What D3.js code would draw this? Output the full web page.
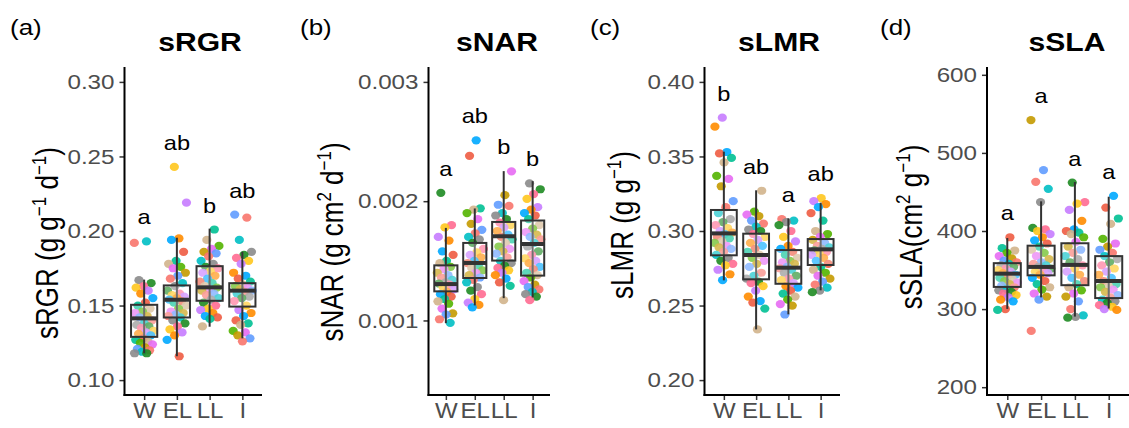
<!DOCTYPE html>
<html lang="en">
<head>
<meta charset="utf-8">
<style>
    body { margin: 0; background: #fff; }
    svg { display: block; font-family: "Liberation Sans", Arial, sans-serif; }
</style>
</head>
<body>
<svg width="1129" height="428"></svg>
<script src="https://cdn.jsdelivr.net/npm/d3@7"></script>
<script>
    const groups = ["W", "EL", "LL", "I"];

    /************************************************************************************
    * Data
    ************************************************************************************/
    // sRGR points per group
    const rgrW  = [0.192, 0.193, 0.167, 0.165, 0.163, 0.162, 0.160, 0.158, 0.155, 0.152, 0.150, 0.148, 0.146, 0.145, 0.143, 0.142, 0.140, 0.138, 0.137, 0.136, 0.135, 0.133, 0.132, 0.131, 0.130, 0.128, 0.127, 0.126, 0.125, 0.124, 0.122, 0.121, 0.120, 0.119, 0.118, 0.118];
    const rgrEL = [0.243, 0.219, 0.195, 0.194, 0.186, 0.180, 0.178, 0.176, 0.175, 0.172, 0.170, 0.168, 0.165, 0.163, 0.160, 0.158, 0.157, 0.156, 0.155, 0.154, 0.153, 0.152, 0.150, 0.148, 0.146, 0.145, 0.144, 0.143, 0.142, 0.140, 0.138, 0.136, 0.134, 0.132, 0.130, 0.127, 0.116];
    const rgrLL = [0.201, 0.194, 0.190, 0.188, 0.186, 0.185, 0.183, 0.180, 0.178, 0.176, 0.175, 0.173, 0.172, 0.170, 0.168, 0.166, 0.165, 0.163, 0.162, 0.161, 0.160, 0.158, 0.157, 0.155, 0.154, 0.152, 0.150, 0.148, 0.147, 0.145, 0.143, 0.142, 0.141, 0.136];
    const rgrI  = [0.211, 0.209, 0.194, 0.186, 0.184, 0.182, 0.180, 0.178, 0.172, 0.170, 0.168, 0.166, 0.164, 0.163, 0.162, 0.161, 0.160, 0.159, 0.158, 0.156, 0.155, 0.153, 0.150, 0.147, 0.145, 0.143, 0.140, 0.138, 0.137, 0.133, 0.132, 0.130, 0.128, 0.126];
    // box stats: [lower whisker, q1, median, q3, upper whisker]
    const rgrBox = [[0.118, 0.129, 0.1414, 0.1505, 0.1674], [0.116, 0.142, 0.1539, 0.1635, 0.1955], [0.1358, 0.1532, 0.1622, 0.1764, 0.2016], [0.128, 0.1493, 0.160, 0.165, 0.186]];
    const rgrLetters = ["a", "ab", "b", "ab"];
    const rgrTicks = [0.10, 0.15, 0.20, 0.25, 0.30];

    // sNAR
    const narW  = [0.00207, 0.00180, 0.00178, 0.00170, 0.00167, 0.00158, 0.00155, 0.00150, 0.00148, 0.00145, 0.00143, 0.00140, 0.00138, 0.00136, 0.00134, 0.00132, 0.00131, 0.00130, 0.00128, 0.00126, 0.00124, 0.00122, 0.00120, 0.00118, 0.00116, 0.00114, 0.00110, 0.00106, 0.00105, 0.00101, 0.00098];
    const narEL = [0.00251, 0.00238, 0.00194, 0.00193, 0.00190, 0.00185, 0.00181, 0.00176, 0.00173, 0.00170, 0.00168, 0.00165, 0.00160, 0.00157, 0.00155, 0.00153, 0.00150, 0.00148, 0.00146, 0.00144, 0.00142, 0.00140, 0.00138, 0.00136, 0.00134, 0.00132, 0.00128, 0.00125, 0.00122, 0.00118, 0.00115, 0.00113, 0.00111];
    const narLL = [0.00225, 0.00205, 0.00197, 0.00196, 0.00190, 0.00188, 0.00185, 0.00182, 0.00180, 0.00178, 0.00175, 0.00172, 0.00170, 0.00168, 0.00165, 0.00162, 0.00160, 0.00158, 0.00156, 0.00153, 0.00150, 0.00148, 0.00146, 0.00144, 0.00142, 0.00140, 0.00138, 0.00135, 0.00132, 0.00129, 0.00117];
    const narI  = [0.00215, 0.00210, 0.00206, 0.00202, 0.00195, 0.00193, 0.00190, 0.00188, 0.00185, 0.00180, 0.00177, 0.00174, 0.00172, 0.00170, 0.00168, 0.00165, 0.00162, 0.00158, 0.00155, 0.00152, 0.00150, 0.00148, 0.00145, 0.00143, 0.00140, 0.00138, 0.00136, 0.00133, 0.00130, 0.00128, 0.00126, 0.00124, 0.00122, 0.00120, 0.00117];
    const narBox = [[0.000977, 0.001244, 0.001305, 0.001462, 0.001776], [0.001126, 0.001356, 0.001482, 0.00165, 0.001939], [0.001187, 0.001502, 0.001706, 0.001826, 0.002252], [0.001193, 0.001376, 0.001641, 0.001838, 0.002168]];
    const narLetters = ["a", "ab", "b", "b"];
    const narTicks = [0.001, 0.002, 0.003];

    // sLMR
    const lmrW  = [0.376, 0.370, 0.353, 0.352, 0.349, 0.346, 0.337, 0.335, 0.330, 0.320, 0.316, 0.312, 0.308, 0.306, 0.304, 0.302, 0.300, 0.299, 0.298, 0.296, 0.295, 0.293, 0.292, 0.290, 0.289, 0.288, 0.286, 0.284, 0.282, 0.280, 0.278, 0.277, 0.274, 0.271, 0.267];
    const lmrEL = [0.327, 0.313, 0.311, 0.310, 0.307, 0.305, 0.303, 0.301, 0.300, 0.298, 0.296, 0.294, 0.292, 0.290, 0.288, 0.286, 0.284, 0.282, 0.280, 0.278, 0.276, 0.272, 0.270, 0.268, 0.266, 0.265, 0.263, 0.260, 0.256, 0.253, 0.252, 0.248, 0.234];
    const lmrLL = [0.308, 0.307, 0.306, 0.304, 0.300, 0.296, 0.293, 0.290, 0.288, 0.286, 0.284, 0.282, 0.280, 0.279, 0.278, 0.276, 0.275, 0.274, 0.272, 0.270, 0.268, 0.267, 0.265, 0.263, 0.262, 0.260, 0.258, 0.256, 0.254, 0.251, 0.250, 0.244];
    const lmrI  = [0.322, 0.320, 0.318, 0.316, 0.312, 0.307, 0.300, 0.298, 0.296, 0.294, 0.292, 0.290, 0.289, 0.288, 0.287, 0.286, 0.285, 0.284, 0.282, 0.280, 0.278, 0.276, 0.274, 0.272, 0.270, 0.268, 0.266, 0.264, 0.262, 0.260, 0.259];
    const lmrBox = [[0.2669, 0.2837, 0.2984, 0.3141, 0.3532], [0.234, 0.2676, 0.2839, 0.2982, 0.3273], [0.2441, 0.2646, 0.2754, 0.2872, 0.3085], [0.2602, 0.2772, 0.2877, 0.2946, 0.319]];
    const lmrLetters = ["b", "ab", "a", "ab"];
    const lmrTicks = [0.20, 0.25, 0.30, 0.35, 0.40];

    // sSLA
    const slaW  = [392, 378, 375, 372, 368, 365, 362, 360, 358, 356, 354, 352, 350, 348, 346, 344, 342, 340, 338, 336, 334, 332, 330, 328, 326, 324, 322, 320, 318, 315, 312, 310, 300, 299];
    const slaEL = [542, 478, 463, 454, 437, 404, 402, 400, 396, 392, 388, 384, 380, 376, 372, 368, 364, 360, 358, 356, 354, 352, 350, 348, 346, 344, 340, 336, 332, 328, 325, 320, 316, 312, 272];
    const slaLL = [462, 437, 435, 427, 413, 402, 400, 398, 396, 392, 386, 380, 376, 372, 368, 364, 360, 356, 352, 348, 344, 340, 336, 332, 328, 324, 320, 316, 310, 300, 292, 290, 289];
    const slaI  = [445, 430, 416, 409, 390, 384, 380, 376, 372, 368, 364, 360, 356, 352, 348, 344, 340, 336, 332, 330, 328, 325, 322, 318, 315, 312, 310, 308, 305, 303, 300, 299];
    const slaBox = [[300.2, 328.4, 345.4, 358.8, 391], [315, 343.2, 354, 381.2, 438], [290.4, 330.6, 356.6, 384.3, 462.7], [300.7, 314.1, 336, 367.8, 443.9]];
    const slaLetters = ["a", "a", "a", "a"];
    const slaTicks = [200, 300, 400, 500, 600];

    const palette = ["#F8766D", "#FF8C00", "#C49A00", "#FFC61E", "#53B400", "#1E8B22", "#00C094", "#00BFC4",
                     "#00A9FF", "#619CFF", "#C77CFF", "#E76BF3", "#FF6C91", "#D2B48C", "#8B8B8B", "#EE5C42"];

    /************************************************************************************
    * Panels
    ************************************************************************************/
    const panels = [
        { tag: "(a)", tagX: 10, title: "sRGR", titleX: 200, left: 124.5, right: 262,
          points: [rgrW, rgrEL, rgrLL, rgrI], box: rgrBox, letters: rgrLetters,
          domain: [0.09, 0.31], ticks: rgrTicks, fmt: ".2f",
          label: ["sRGR (g g", "-1", " d", "-1", ")"], labelX: 58, labelY: 243 },
        { tag: "(b)", tagX: 300, title: "sNAR", titleX: 497, left: 428.5, right: 550,
          points: [narW, narEL, narLL, narI], box: narBox, letters: narLetters,
          domain: [0.000375, 0.003125], ticks: narTicks, fmt: ".3f",
          label: ["sNAR (g cm", "2", " d", "-1", ")"], labelX: 343, labelY: 242 },
        { tag: "(c)", tagX: 590, title: "sLMR", titleX: 779, left: 704.5, right: 840,
          points: [lmrW, lmrEL, lmrLL, lmrI], box: lmrBox, letters: lmrLetters,
          domain: [0.19, 0.41], ticks: lmrTicks, fmt: ".2f",
          label: ["sLMR (g g", "-1", ")"], labelX: 633, labelY: 225 },
        { tag: "(d)", tagX: 880, title: "sSLA", titleX: 1067, left: 987, right: 1129,
          points: [slaW, slaEL, slaLL, slaI], box: slaBox, letters: slaLetters,
          domain: [190, 610], ticks: slaTicks, fmt: "d",
          label: ["sSLA(cm", "2", " g", "-1", ")"], labelX: 922, labelY: 227 }
    ];

    const panelTop = 67, panelBottom = 395;
    const sx = 1.18; // horizontal stretch of the original text
    const svg = d3.select("svg");

    panels.forEach((p, pi) => {
        const x = d3.scalePoint().domain(groups).range([p.left, p.right]).padding(0.6);
        const y = d3.scaleLinear().domain(p.domain).range([panelBottom, panelTop]);
        const step = x.step();
        const g = svg.append("g");

        // panel tag and title
        g.append("text").attr("transform", `translate(${p.tagX},35) scale(${sx},1)`)
            .style("font-size", "22px").text(p.tag);
        g.append("text").attr("transform", `translate(${p.titleX},51) scale(${sx},1)`)
            .attr("text-anchor", "middle").style("font-size", "25.5px").style("font-weight", "bold")
            .text(p.title);

        // y label with superscripts
        const lab = g.append("text")
            .attr("transform", `translate(${p.labelX},${p.labelY}) scale(${sx},1) rotate(-90)`)
            .attr("text-anchor", "middle").style("font-size", "26px");
        p.label.forEach((s, i) => {
            const t = lab.append("tspan").text(s.replace("-", "\u2212"));
            if (i % 2 === 1) t.attr("dy", -10).style("font-size", "17px");
            else if (i > 0) t.attr("dy", 10);
        });

        // jittered points
        groups.forEach((grp, gi) => {
            g.selectAll(null).data(p.points[gi]).enter()
                .append("ellipse")
                .attr("cx", (d, i) => x(grp) + (((i * 0.618034 + gi * 0.37 + pi * 0.21) % 1) - 0.5) * 0.6 * step)
                .attr("cy", d => y(d))
                .attr("rx", 4.6).attr("ry", 4.1)
                .attr("fill", (d, i) => palette[(i * 7 + gi * 3 + pi * 5) % palette.length])
                .attr("opacity", 0.9);
        });

        // boxes
        const bw = 0.8 * step;
        const boxes = g.selectAll(".box").data(p.box).enter().append("g");
        boxes.append("line")
            .attr("x1", (d, i) => x(groups[i])).attr("x2", (d, i) => x(groups[i]))
            .attr("y1", d => y(d[0])).attr("y2", d => y(d[4]))
            .attr("stroke", "#333").attr("stroke-width", 2);
        boxes.append("rect")
            .attr("x", (d, i) => x(groups[i]) - bw / 2).attr("width", bw)
            .attr("y", d => y(d[3])).attr("height", d => y(d[1]) - y(d[3]))
            .attr("fill", "rgba(255,255,255,0.3)").attr("stroke", "#333").attr("stroke-width", 2);
        boxes.append("line")
            .attr("x1", (d, i) => x(groups[i]) - bw / 2).attr("x2", (d, i) => x(groups[i]) + bw / 2)
            .attr("y1", d => y(d[2])).attr("y2", d => y(d[2]))
            .attr("stroke", "#333").attr("stroke-width", 4);

        // significance letters above highest point
        g.selectAll(".let").data(p.letters).enter().append("text")
            .attr("transform", (d, i) => `translate(${x(groups[i])},${y(d3.max(p.points[i])) - 17}) scale(${sx},1)`)
            .attr("text-anchor", "middle").style("font-size", "20px").text(d => d);

        // axes
        const yAxis = g.append("g").attr("transform", `translate(${p.left},0)`)
            .call(d3.axisLeft(y).tickValues(p.ticks).tickFormat(d3.format(p.fmt)).tickSizeOuter(0).tickSize(5).tickPadding(6));
        const xAxis = g.append("g").attr("transform", `translate(0,${panelBottom})`)
            .call(d3.axisBottom(x).tickSizeOuter(0).tickSize(5).tickPadding(5));
        [yAxis, xAxis].forEach(a => {
            a.select(".domain").remove();
            a.selectAll(".tick line").attr("stroke", "#333").attr("stroke-width", 1.5);
            a.selectAll(".tick text").attr("fill", "#4D4D4D").style("font-family", "inherit");
        });
        yAxis.selectAll(".tick text").style("font-size", "20.5px")
            .attr("transform", `translate(-10,0) scale(${sx},1)`).attr("x", 0);
        xAxis.selectAll(".tick text").style("font-size", "21.5px")
            .attr("transform", "translate(0,8) scale(1.12,1)").attr("y", 0).attr("dy", "0.71em");

        // axis lines
        g.append("line").attr("x1", p.left).attr("x2", p.left).attr("y1", panelTop).attr("y2", panelBottom + 1)
            .attr("stroke", "#000").attr("stroke-width", 2);
        g.append("line").attr("x1", p.left - 1).attr("x2", p.right).attr("y1", panelBottom).attr("y2", panelBottom)
            .attr("stroke", "#000").attr("stroke-width", 2);
    });
</script>
</body>
</html>
